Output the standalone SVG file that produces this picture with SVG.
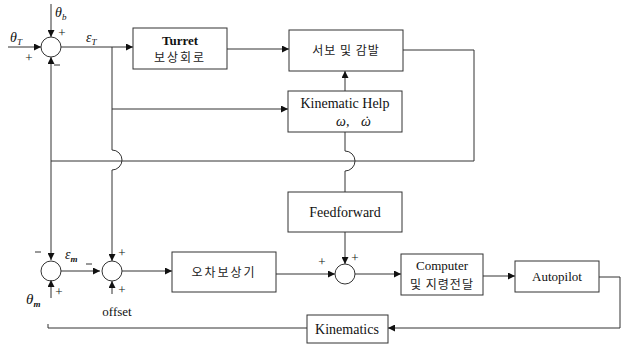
<svg xmlns="http://www.w3.org/2000/svg" width="627" height="346" viewBox="0 0 627 346">
<style>
.box{fill:#fff;stroke:#333;stroke-width:1}
.sum{fill:none;stroke:#333;stroke-width:1}
.ln{fill:none;stroke:#333;stroke-width:1}
.t{font-family:"Liberation Serif","Noto Sans CJK KR",serif;fill:#111;text-anchor:middle}
.k{font-family:"Noto Sans CJK KR","Liberation Serif",sans-serif;fill:#222;text-anchor:middle;font-size:12px}
.g{font-family:"Liberation Serif",serif;fill:#111;font-style:italic}
.s{font-family:"Liberation Serif",serif;fill:#111;font-size:13px;text-anchor:middle}
</style>
<defs>
<marker id="ah" viewBox="0 0 10 10" refX="10" refY="5" markerWidth="8" markerHeight="7" markerUnits="userSpaceOnUse" orient="auto">
<path d="M0,0 L10,5 L0,10 z" fill="#111"/>
</marker>
</defs>
<rect width="627" height="346" fill="#fff"/>

<g id="connectors">
<path class="ln" d="M51,4 V37" marker-end="url(#ah)"/>
<path class="ln" d="M8,47 H41" marker-end="url(#ah)"/>
<path class="ln" d="M61,47 H133" marker-end="url(#ah)"/>
<path class="ln" d="M227,49 H289" marker-end="url(#ah)"/>
<path class="ln" d="M345,91 V71" marker-end="url(#ah)"/>
<path class="ln" d="M112,109 H288" marker-end="url(#ah)"/>
<path class="ln" d="M112,47 V150 A10,10 0 0 1 112,170 V261" marker-end="url(#ah)"/>
<path class="ln" d="M403,50 H474 V161 H51"/>
<path class="ln" d="M51,161 V57" marker-end="url(#ah)"/>
<path class="ln" d="M51,161 V260" marker-end="url(#ah)"/>
<path class="ln" d="M345,132 V151 A10,10 0 0 1 345,171 V192"/>
<path class="ln" d="M345,232 V264" marker-end="url(#ah)"/>
<path class="ln" d="M51,298 V280" marker-end="url(#ah)"/>
<path class="ln" d="M61,271 H100" marker-end="url(#ah)"/>
<path class="ln" d="M112,294 V281" marker-end="url(#ah)"/>
<path class="ln" d="M122,271 H172" marker-end="url(#ah)"/>
<path class="ln" d="M276,274 H335" marker-end="url(#ah)"/>
<path class="ln" d="M355,274 H401" marker-end="url(#ah)"/>
<path class="ln" d="M483,276 H515" marker-end="url(#ah)"/>
<path class="ln" d="M599,277 H620 V328 H388" marker-end="url(#ah)"/>
<path class="ln" d="M307,328 H48 V324"/>
</g>

<g id="sum1"><circle class="sum" cx="51" cy="47" r="10"/>
<text class="g" x="55" y="17" font-size="14">θ<tspan font-size="9" dy="3">b</tspan></text>
<text class="s" x="62" y="37">+</text>
<text class="g" x="10" y="42" font-size="14">θ<tspan font-size="9" dy="3">T</tspan></text>
<text class="s" x="29" y="62">+</text>
<path class="ln" d="M54,65 H60"/>
<text class="g" x="86" y="42" font-size="14">ε<tspan font-size="9" dy="3">T</tspan></text>
</g>

<g id="turret"><rect class="box" x="133" y="28" width="94" height="41"/>
<text class="t" x="180" y="45" font-size="13" font-weight="bold">Turret</text>
<text class="k" x="180" y="62" letter-spacing="2">보상회로</text></g>

<g id="servo"><rect class="box" x="289" y="30" width="114" height="41"/>
<text class="k" x="346" y="55" font-size="13" letter-spacing="1">서보 및 감발</text></g>

<g id="kinhelp"><rect class="box" x="288" y="91" width="114" height="41"/>
<text class="t" x="345" y="108" font-size="14">Kinematic Help</text>
<text class="g" x="336" y="126" font-size="14">ω,</text>
<text class="g" x="361" y="126" font-size="14">ω<tspan dx="-7">˙</tspan></text></g>

<g id="feedforward"><rect class="box" x="288" y="192" width="114" height="40"/>
<text class="t" x="345" y="217" font-size="14">Feedforward</text></g>

<g id="sum2"><circle class="sum" cx="51" cy="271" r="10"/>
<path class="ln" d="M35,252 H41"/>
<text class="s" x="59" y="296">+</text>
<text class="g" x="26" y="304" font-size="15">θ<tspan font-size="9" dy="3" font-weight="bold">m</tspan></text>
<text class="g" x="65" y="259" font-size="14">ε<tspan font-size="9" dy="3" font-weight="bold">m</tspan></text>
</g>

<g id="sum3"><circle class="sum" cx="112" cy="271" r="10"/>
<path class="ln" d="M86,264 H92"/>
<text class="s" x="122" y="257">+</text>
<text class="s" x="122" y="294">+</text>
<text class="t" x="117" y="316" font-size="13">offset</text></g>

<g id="errcomp"><rect class="box" x="172" y="252" width="104" height="40"/>
<text class="k" x="224" y="277" font-size="13" letter-spacing="2">오차보상기</text></g>

<g id="sum4"><circle class="sum" cx="345" cy="274" r="10"/>
<text class="s" x="355" y="262">+</text>
<text class="s" x="322" y="266">+</text></g>

<g id="computer"><rect class="box" x="401" y="254" width="82" height="41"/>
<text class="t" x="442" y="270" font-size="13">Computer</text>
<text class="k" x="442" y="289" font-size="11" letter-spacing="1">및 지령전달</text></g>

<g id="autopilot"><rect class="box" x="515" y="261" width="84" height="31"/>
<text class="t" x="557" y="281" font-size="13">Autopilot</text></g>

<g id="kinematics"><rect class="box" x="307" y="315" width="81" height="28"/>
<text class="t" x="347" y="334" font-size="14">Kinematics</text></g>
</svg>
